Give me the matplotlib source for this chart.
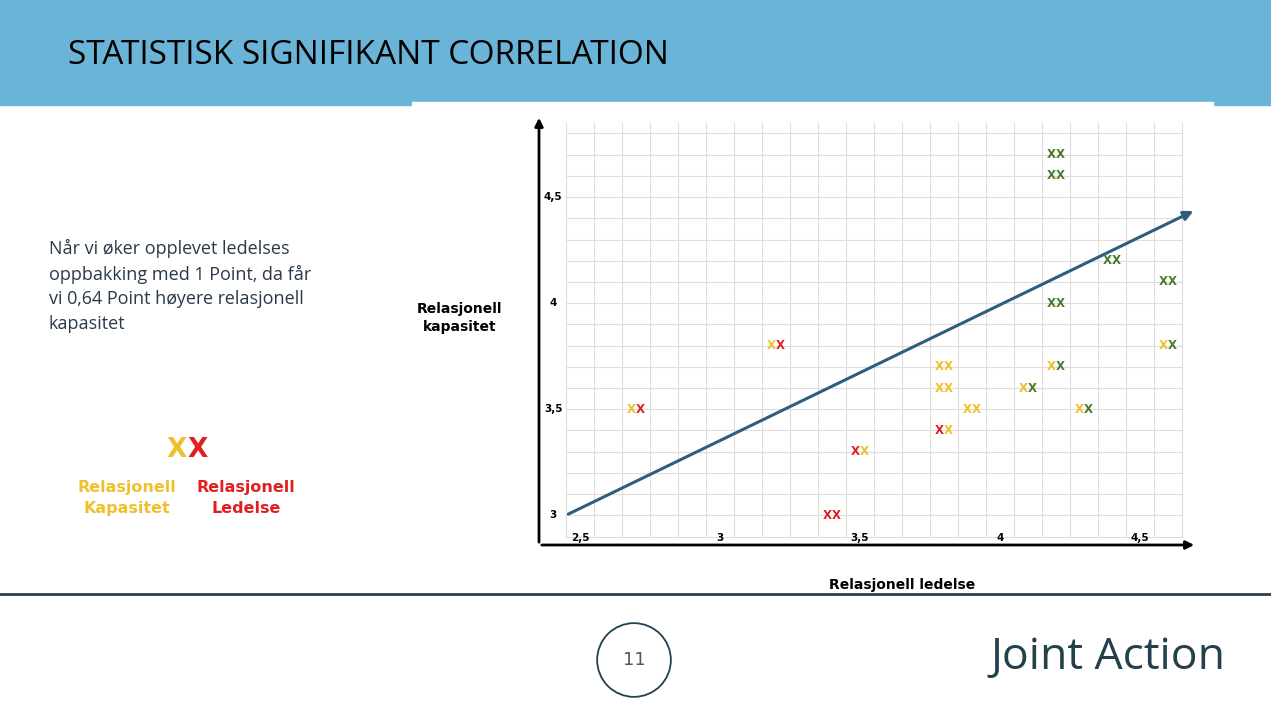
import matplotlib
matplotlib.use("Agg")
import matplotlib.pyplot as plt
import numpy as np
from matplotlib.patches import Rectangle, Circle

# data: (x, y, first letter colour code, second letter colour code)
px = [2.7, 3.2, 3.4, 3.5, 3.8, 3.8, 3.8, 3.9, 4.1, 4.2, 4.3, 4.2, 4.2, 4.2, 4.4, 4.6, 4.6]
py = [3.5, 3.8, 3.0, 3.3, 3.7, 3.6, 3.4, 3.5, 3.6, 3.7, 3.5, 4.0, 4.6, 4.7, 4.2, 4.1, 3.8]
c1 = ["y", "y", "r", "r", "y", "y", "r", "y", "y", "y", "y", "g", "g", "g", "g", "g", "y"]
c2 = ["r", "r", "r", "y", "y", "y", "y", "y", "g", "g", "g", "g", "g", "g", "g", "g", "g"]
xticks = [2.5, 3, 3.5, 4, 4.5]
xtick_labels = ["2,5", "3", "3,5", "4", "4,5"]
yticks = [3, 3.5, 4, 4.5]
ytick_labels = ["3", "3,5", "4", "4,5"]
reg_x = [2.45, 4.70]
reg_y = [3.0, 4.44]

COL = {"y": "#F0C02C", "r": "#E21F1F", "g": "#4C7A2C"}
DARK = "#24404C"

fig = plt.figure(figsize=(12.71, 7.09), dpi=100)
fig.patch.set_facecolor("white")
W, H = 1271, 709
def fx(p): return p / W
def fy(p): return 1 - p / H

fig.patches.append(Rectangle((0, fy(105)), 1, 105 / H, transform=fig.transFigure,
                             color="#6AB5D7", zorder=0))
fig.patches.append(Rectangle((fx(412), fy(107)), 801 / W, 5 / H, transform=fig.transFigure,
                             color="white", zorder=1))
fig.text(fx(68), fy(55), "STATISTISK SIGNIFIKANT CORRELATION", fontsize=24,
         va="center", ha="left", color="black", fontfamily="Open Sans")
fig.add_artist(plt.Line2D([0, 1], [fy(594), fy(594)], color="#2F3E46", lw=2))
cax = fig.add_axes([fx(596), fy(698), 76 / W, 76 / H])
cax.set_xlim(-1, 1); cax.set_ylim(-1, 1); cax.set_aspect("equal"); cax.axis("off")
cax.add_patch(Circle((0, 0), 0.97, fill=False, edgecolor=DARK, lw=1.3))
cax.text(0, 0, "11", ha="center", va="center", fontsize=13, color="#555555")
fig.text(fx(1108), fy(658), "Joint Action", fontsize=32, ha="center", va="center", color=DARK,
         fontfamily="Open Sans")

fig.text(fx(49), fy(286),
         "Når vi øker opplevet ledelses\noppbakking med 1 Point, da får\nvi 0,64 Point høyere relasjonell\nkapasitet",
         fontsize=13, ha="left", va="center", color="#2B3A4A", linespacing=1.45,
         fontfamily="Open Sans")
fig.text(fx(187), fy(450), "X", fontsize=19, fontweight="bold", color=COL["y"], ha="right", va="center")
fig.text(fx(187), fy(450), "X", fontsize=19, fontweight="bold", color=COL["r"], ha="left", va="center")
fig.text(fx(127), fy(498), "Relasjonell\nKapasitet", fontsize=11.5, fontweight="bold",
         color=COL["y"], ha="center", va="center", linespacing=1.5)
fig.text(fx(246), fy(498), "Relasjonell\nLedelse", fontsize=11.5, fontweight="bold",
         color=COL["r"], ha="center", va="center", linespacing=1.5)
fig.text(fx(460), fy(318), "Relasjonell\nkapasitet", fontsize=10, fontweight="bold",
         ha="center", va="center", linespacing=1.4)
fig.text(fx(902), fy(585), "Relasjonell ledelse", fontsize=10, fontweight="bold",
         ha="center", va="center")

ax = fig.add_axes([fx(539), fy(545), 658 / W, 430 / H])
ax.set_xlim(2.354, 4.704)
ax.set_ylim(2.86, 4.887)
ax.axis("off")
for gx in np.arange(2.45, 4.66, 0.1):
    ax.plot([gx, gx], [2.9, 4.85], color="#DDDDDD", lw=0.8, zorder=1)
for gy in np.arange(2.9, 4.86, 0.1):
    ax.plot([2.45, 4.65], [gy, gy], color="#DDDDDD", lw=0.8, zorder=1)
ax.annotate("", xy=(4.704, 2.86), xytext=(2.354, 2.86),
            arrowprops=dict(arrowstyle="-|>", color="black", lw=2, mutation_scale=12))
ax.annotate("", xy=(2.354, 4.887), xytext=(2.354, 2.86),
            arrowprops=dict(arrowstyle="-|>", color="black", lw=2, mutation_scale=12))
for t, l in zip(xticks, xtick_labels):
    ax.text(t, 2.895, l, fontsize=7.5, fontweight="bold", ha="center", va="center")
for t, l in zip(yticks, ytick_labels):
    ax.text(2.405, t, l, fontsize=7.5, fontweight="bold", ha="center", va="center")
ax.annotate("", xy=(reg_x[1], reg_y[1]), xytext=(reg_x[0], reg_y[0]),
            arrowprops=dict(arrowstyle="-|>", color="#2E5E7E", lw=2.2, mutation_scale=14))
for x, y, a, b in zip(px, py, c1, c2):
    ax.text(x, y, "X", color=COL[a], fontsize=8.5, fontweight="bold", ha="right", va="center", zorder=5)
    ax.text(x, y, "X", color=COL[b], fontsize=8.5, fontweight="bold", ha="left", va="center", zorder=5)

fig.savefig("out.png", dpi=100, facecolor="white")
